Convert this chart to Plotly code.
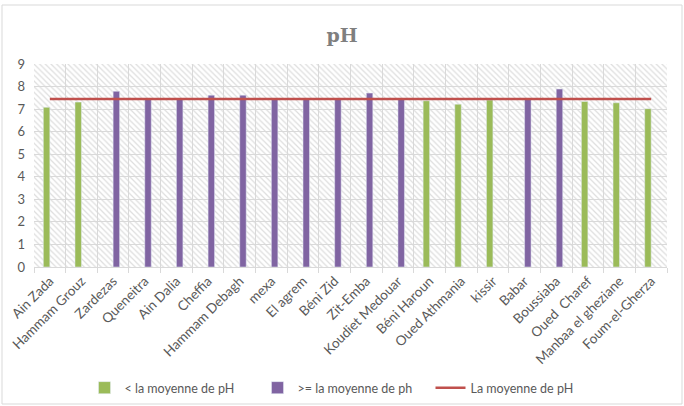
import plotly.graph_objects as go

stations = ["Ain Zada", "Hammam Grouz", "Zardezas", "Queneitra", "Ain Dalia", "Cheffia",
            "Hammam Debagh", "mexa", "El agrem", "Béni Zid", "Zit-Emba", "Koudiet Medouar",
            "Béni Haroun", "Oued Athmania", "kissir", "Babar", "Boussiaba", "Oued  Charef",
            "Manbaa el gheziane", "Foum-el-Gherza"]
ph_values = [7.08, 7.31, 7.79, 7.46, 7.46, 7.62, 7.62, 7.46, 7.46, 7.46, 7.71, 7.46,
             7.37, 7.22, 7.40, 7.46, 7.89, 7.34, 7.28, 7.02]
ph_mean = sum(ph_values) / len(ph_values)

below = [v if v < ph_mean else None for v in ph_values]
above = [v if v >= ph_mean else None for v in ph_values]
mean_line = [ph_mean] * len(stations)

y_max = 9
GREEN = "#9bbb59"
PURPLE = "#8064a2"
RED = "#c0504d"
GRID = "#d9d9d9"
TXT = "#595959"
FONT = "Lato"

fig = go.Figure()

# hatched plot-area background (subplot drawn first, beneath the gridlines)
fig.add_trace(go.Bar(
    x=[0], y=[y_max], width=[1], xaxis="x", yaxis="y",
    marker=dict(color="white", line=dict(width=0),
                pattern=dict(shape="\\", fgcolor="#dedede", bgcolor="white",
                             size=4, solidity=0.3, fillmode="replace")),
    showlegend=False, hoverinfo="skip"))

fig.add_trace(go.Bar(x=stations, y=below, name="< la moyenne de pH",
                     marker_color=GREEN, xaxis="x2", yaxis="y2"))
fig.add_trace(go.Bar(x=stations, y=above, name=">= la moyenne de ph",
                     marker_color=PURPLE, xaxis="x2", yaxis="y2"))
fig.add_trace(go.Scatter(x=stations, y=mean_line, name="La moyenne de pH", mode="lines",
                         line=dict(color=RED, width=2.5), xaxis="x2", yaxis="y2"))

fig.update_layout(
    width=684, height=406,
    margin=dict(l=34, r=17, t=64, b=139, autoexpand=False),
    paper_bgcolor="white", plot_bgcolor="rgba(0,0,0,0)",
    font=dict(family=FONT, size=12, color=TXT),
    title=dict(text="<b>pH</b>", x=0.5, xanchor="center", y=1 - 35 / 406, yanchor="middle",
               font=dict(family="DejaVu Serif", size=19, color="#7f7f7f")),
    barmode="group", bargap=0.59, bargroupgap=0,
    xaxis=dict(domain=[0, 1], range=[-0.5, 0.5], visible=False, fixedrange=True),
    yaxis=dict(domain=[0, 1], range=[0, y_max], visible=False, fixedrange=True),
    xaxis2=dict(domain=[0, 1], anchor="y2", type="category", tickson="boundaries",
                showgrid=True, gridcolor=GRID, gridwidth=1, automargin=False,
                showline=True, linecolor=GRID, linewidth=1,
                ticks="outside", ticklen=5, tickcolor=GRID,
                tickangle=-45, tickfont=dict(size=13.5, color=TXT)),
    yaxis2=dict(domain=[0, 1], anchor="x2", range=[0, y_max], dtick=1, automargin=False,
                showgrid=True, gridcolor=GRID, gridwidth=1, zeroline=False,
                showline=False, ticks="", ticklabelstandoff=8,
                tickfont=dict(size=13, color=TXT)),
    legend=dict(orientation="h", x=(344 - 34) / 633, xanchor="center",
                y=(267 - 388) / 203, yanchor="middle",
                font=dict(size=12.5, color=TXT), itemwidth=30, traceorder="normal",
                entrywidth=128, entrywidthmode="pixels"),
    showlegend=True,
)

fig.add_shape(type="rect", xref="paper", yref="paper",
              x0=(2 - 34) / 633, x1=(682 - 34) / 633,
              y0=(267 - 404) / 203, y1=(267 - 5) / 203,
              line=dict(color=GRID, width=1), fillcolor="rgba(0,0,0,0)", layer="below")

fig.write_html("out.html")
